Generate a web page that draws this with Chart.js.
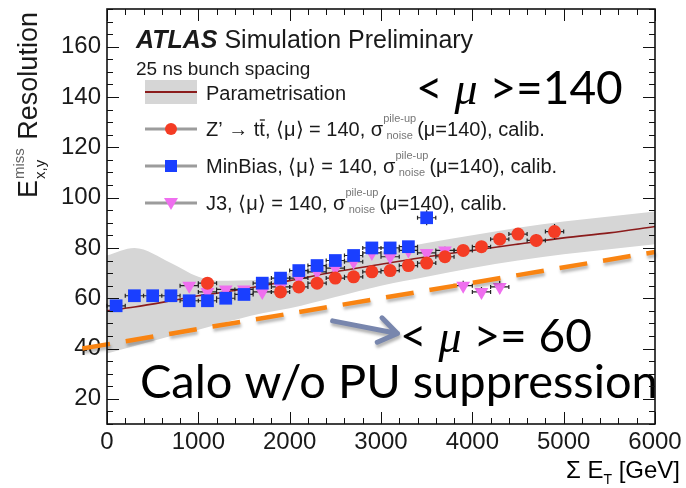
<!DOCTYPE html>
<html>
<head>
<meta charset="utf-8">
<script src="https://cdn.jsdelivr.net/npm/chart.js@4.4.1/dist/chart.umd.min.js"></script>
<style>
  html, body { margin: 0; padding: 0; background: #fff; }
  #wrap { width: 686px; height: 488px; }
</style>
</head>
<body>
<div id="wrap"><canvas id="resChart" width="686" height="488"></canvas></div>
<script>
// Sum E_T bin centres [GeV] and E_x,y^miss resolution [GeV]
const zprimeX = [1100, 1900, 2100, 2300, 2500, 2700, 2900, 3100, 3300, 3500, 3700, 3900, 4100, 4300, 4500, 4700, 4900];
const zprimeY = [66, 62.5, 64.5, 66, 68, 68.5, 70.5, 71, 73, 74, 76.5, 79, 80.5, 83.5, 85.5, 83, 86.5];
const zprimeErr = [1.5, 1, 1, 1, 1, 1, 1, 1, 1, 1.2, 1.2, 1.5, 1.5, 2, 2, 2.5, 3];

const minbiasX = [100, 300, 500, 700, 900, 1100, 1300, 1500, 1700, 1900, 2100, 2300, 2500, 2700, 2900, 3100, 3300, 3500];
const minbiasY = [57, 61, 61, 61, 59, 59, 60, 61.5, 66, 68, 71, 73, 75, 77, 80, 80, 80.5, 92];
const minbiasErr = [1, 0.8, 0.8, 0.8, 0.8, 0.8, 0.8, 1, 1, 1, 1, 1, 1, 1, 1, 1.2, 1.2, 3];

const j3X = [900, 1100, 1300, 1500, 1700, 1900, 2100, 2300, 2500, 2700, 2900, 3100, 3300, 3500, 3700, 3900, 4100, 4300];
const j3Y = [65, 62.5, 63.5, 63.5, 62.5, 64.5, 68, 70.5, 72, 74.5, 78, 76.5, 79, 78, 79, 65, 62.5, 64.5];
const j3Err = [1.5, 1, 1, 1, 1, 1, 1, 1, 1, 1, 1.2, 1.2, 1.5, 1.5, 1.5, 2, 2, 2.5];

// horizontal half-width of every bin
const binHalfWidth = 100;

// parametrisation curve and its uncertainty band
const paramX = [0, 300, 700, 1000, 1200, 1700, 2000, 2500, 3000, 3500, 4000, 4500, 5000, 5500, 6000];
const paramY = [55, 56.5, 59, 61, 62, 65, 67, 70.5, 73.5, 76.5, 79, 81.5, 84, 86, 88.5];
const bandHi = [77, 80, 74, 68.5, 67, 67.5, 70, 74.5, 78.5, 82, 85, 88, 90.5, 92.5, 94.5];
const bandLo = [38, 41, 45, 47.5, 49.5, 54, 56, 60.5, 65, 68.5, 72, 75, 77.5, 79.5, 81.5];

// <mu> = 60 calorimeter-only reference line (no pile-up suppression)
const caloX = [-270, 6000];
const caloY = [40, 78.4];

// arrow pointing from the band to the <mu> = 60 label
const arrowFrom = [2470, 51];
const arrowTo = [3180, 46];

const xTicks = [0, 1000, 2000, 3000, 4000, 5000, 6000];
const yTicks = [20, 40, 60, 80, 100, 120, 140, 160];
const xRange = [0, 6000];
const yRange = [10, 175];

const SANS = '"Liberation Sans", Arial, Helvetica, sans-serif';
const BIG = 'Lato, "Open Sans", sans-serif';
const INK = '#1a1a1a';

const RED = '#f43c24';
const BLUE = '#1a3fff';
const PINK = '#ef6fef';

function toPoints(xs, ys, errs) {
  return xs.map((x, i) => ({ x: x, y: ys[i], e: errs ? errs[i] : 0 }));
}

// draws a sequence of text pieces left to right, returns end x
function runText(ctx, x, y, pieces) {
  pieces.forEach(p => {
    ctx.font = p.font;
    ctx.fillText(p.t, x, y + (p.dy || 0));
    x += ctx.measureText(p.t).width;
  });
  return x;
}

function sigmaTerm(ctx, x, y) {
  ctx.font = '11px ' + SANS;
  const wSup = ctx.measureText('pile-up').width;
  const wSub = ctx.measureText('noise').width;
  ctx.fillStyle = '#777';
  ctx.fillText('pile-up', x, y - 10);
  ctx.fillText('noise', x + (wSup - wSub) / 2, y + 7);
  ctx.fillStyle = INK;
  return x + Math.max(wSup, wSub) + 1;
}

const errorBars = {
  id: 'errorBars',
  beforeDatasetDraw(chart, args) {
    const ds = chart.data.datasets[args.index];
    if (!ds.errorBars) return;
    const { ctx, scales: { x, y } } = chart;
    ctx.save();
    ctx.strokeStyle = '#222';
    ctx.lineWidth = 1.2;
    ctx.beginPath();
    ds.data.forEach(p => {
      const px = x.getPixelForValue(p.x), py = y.getPixelForValue(p.y);
      const x0 = x.getPixelForValue(p.x - binHalfWidth), x1 = x.getPixelForValue(p.x + binHalfWidth);
      const y0 = y.getPixelForValue(p.y - p.e), y1 = y.getPixelForValue(p.y + p.e);
      ctx.moveTo(x0, py); ctx.lineTo(x1, py);
      ctx.moveTo(x0, py - 2); ctx.lineTo(x0, py + 2);
      ctx.moveTo(x1, py - 2); ctx.lineTo(x1, py + 2);
      ctx.moveTo(px, y0); ctx.lineTo(px, y1);
    });
    ctx.stroke();
    ctx.restore();
  }
};

// soft drop shadow under the overlay line
const overlayShadow = {
  id: 'overlayShadow',
  beforeDatasetDraw(chart, args) {
    if (!chart.data.datasets[args.index].shadow) return;
    const ctx = chart.ctx;
    ctx.save();
    ctx.shadowColor = 'rgba(0,0,0,0.28)';
    ctx.shadowBlur = 3;
    ctx.shadowOffsetX = 1;
    ctx.shadowOffsetY = 3;
  },
  afterDatasetDraw(chart, args) {
    if (!chart.data.datasets[args.index].shadow) return;
    chart.ctx.restore();
  }
};

const annotations = {
  id: 'annotations',
  afterDraw(chart) {
    const { ctx, scales: { x, y } } = chart;
    ctx.save();
    ctx.textBaseline = 'alphabetic';
    ctx.textAlign = 'left';
    ctx.fillStyle = INK;

    // header
    runText(ctx, 136, 48, [
      { t: 'ATLAS', font: 'italic bold 25px ' + SANS },
      { t: ' Simulation Preliminary', font: '25px ' + SANS }
    ]);
    runText(ctx, 136, 75, [{ t: '25 ns bunch spacing', font: '19px ' + SANS }]);

    // legend: parametrisation
    ctx.fillStyle = '#d6d6d6';
    ctx.fillRect(145, 80, 52, 24);
    ctx.strokeStyle = '#8b1c1c';
    ctx.lineWidth = 2;
    ctx.beginPath(); ctx.moveTo(145, 92); ctx.lineTo(197, 92); ctx.stroke();
    ctx.fillStyle = INK;
    runText(ctx, 206, 100, [{ t: 'Parametrisation', font: '20px ' + SANS }]);

    // legend: marker rows
    const rows = [
      { yc: 129, style: 'circle', color: RED, label: 'Z\u2019 \u2192 t' },
      { yc: 166, style: 'rect', color: BLUE, label: 'MinBias' },
      { yc: 203, style: 'tri', color: PINK, label: 'J3' }
    ];
    const rowFont = '20px ' + SANS;
    rows.forEach(r => {
      ctx.strokeStyle = '#9c9c9c';
      ctx.lineWidth = 3;
      ctx.beginPath(); ctx.moveTo(145, r.yc); ctx.lineTo(197, r.yc); ctx.stroke();
      ctx.fillStyle = r.color;
      ctx.beginPath();
      if (r.style === 'circle') ctx.arc(171, r.yc, 6, 0, Math.PI * 2);
      else if (r.style === 'rect') ctx.rect(165, r.yc - 6, 12, 12);
      else { ctx.moveTo(164, r.yc - 5); ctx.lineTo(178, r.yc - 5); ctx.lineTo(171, r.yc + 7); ctx.closePath(); }
      ctx.fill();
      ctx.fillStyle = INK;
      const base = r.yc + 7;
      let tx = runText(ctx, 206, base, [{ t: r.label, font: rowFont }]);
      if (r.style === 'circle') {
        ctx.font = rowFont;
        const wt = ctx.measureText('t').width;
        ctx.fillText('t', tx, base);
        ctx.lineWidth = 1.3; ctx.strokeStyle = INK;
        ctx.beginPath(); ctx.moveTo(tx + 0.5, base - 16); ctx.lineTo(tx + wt, base - 16); ctx.stroke();
        tx += wt;
      }
      tx = runText(ctx, tx, base, [{ t: ', \u27e8\u03bc\u27e9 = 140, \u03c3', font: rowFont }]);
      tx = sigmaTerm(ctx, tx, base - 4);
      runText(ctx, tx, base, [{ t: '(\u03bc=140), calib.', font: rowFont }]);
    });

    // large overlay labels
    ctx.fillStyle = '#000';
    const bigLabel = (vx, vy, before, after) => {
      const px = x.getPixelForValue(vx), py = y.getPixelForValue(vy);
      runText(ctx, px, py, [
        { t: before, font: '46px ' + BIG },
        { t: '\u03bc', font: 'italic 46px "Liberation Serif", serif' },
        { t: after, font: '46px ' + BIG }
      ]);
    };
    bigLabel(3384, 137.3, '< ', ' >=140');
    bigLabel(3209, 38.6, '< ', ' >= 60');
    ctx.font = '47px ' + BIG;
    ctx.fillText('Calo w/o PU suppression', x.getPixelForValue(361), y.getPixelForValue(20.3));

    // arrow
    const ax0 = x.getPixelForValue(arrowFrom[0]), ay0 = y.getPixelForValue(arrowFrom[1]);
    const ax1 = x.getPixelForValue(arrowTo[0]), ay1 = y.getPixelForValue(arrowTo[1]);
    const ang = Math.atan2(ay1 - ay0, ax1 - ax0);
    ctx.save();
    ctx.shadowColor = 'rgba(0,0,0,0.3)';
    ctx.shadowBlur = 3; ctx.shadowOffsetX = 1; ctx.shadowOffsetY = 3;
    ctx.strokeStyle = '#7886ad';
    ctx.lineWidth = 5;
    ctx.lineCap = 'round';
    ctx.lineJoin = 'round';
    ctx.beginPath();
    ctx.moveTo(ax0, ay0); ctx.lineTo(ax1, ay1);
    ctx.moveTo(ax1 - 22 * Math.cos(ang - 0.6), ay1 - 22 * Math.sin(ang - 0.6));
    ctx.lineTo(ax1, ay1);
    ctx.lineTo(ax1 - 22 * Math.cos(ang + 0.6), ay1 - 22 * Math.sin(ang + 0.6));
    ctx.stroke();
    ctx.restore();

    // y axis title
    ctx.save();
    ctx.translate(37, 198);
    ctx.rotate(-Math.PI / 2);
    ctx.fillStyle = INK;
    ctx.font = '27px ' + SANS;
    ctx.fillText('E', 0, 0);
    const wE = ctx.measureText('E').width;
    ctx.font = '15px ' + SANS;
    const wm = ctx.measureText('miss').width, wxy = ctx.measureText('x,y').width;
    ctx.fillStyle = '#666';
    ctx.fillText('miss', wE + 1, -13);
    ctx.fillStyle = INK;
    ctx.fillText('x,y', wE + 1, 8);
    ctx.font = '27px ' + SANS;
    ctx.fillText(' Resolution', wE + Math.max(wm, wxy) + 2, 0);
    ctx.restore();

    // x axis title
    ctx.font = '24px ' + SANS;
    const w1 = ctx.measureText('\u03a3 E').width, w3 = ctx.measureText(' [GeV]').width;
    ctx.font = '14px ' + SANS;
    const w2 = ctx.measureText('T').width;
    runText(ctx, 680 - (w1 + w2 + w3), 478, [
      { t: '\u03a3 E', font: '24px ' + SANS },
      { t: 'T', font: '14px ' + SANS, dy: 6 },
      { t: ' [GeV]', font: '24px ' + SANS }
    ]);
    ctx.restore();
  }
};

// ROOT-style frame with inward ticks on all four sides
const frameTicks = {
  id: 'frameTicks',
  afterDraw(chart) {
    const { ctx, chartArea: a, scales: { x, y } } = chart;
    ctx.save();
    ctx.strokeStyle = '#111';
    ctx.lineWidth = 1;
    ctx.beginPath();
    for (let v = xRange[0]; v <= xRange[1]; v += 200) {
      const px = Math.round(x.getPixelForValue(v)) + 0.5;
      const len = v % 1000 === 0 ? 12 : 6;
      ctx.moveTo(px, a.bottom); ctx.lineTo(px, a.bottom - len);
      ctx.moveTo(px, a.top); ctx.lineTo(px, a.top + len);
    }
    for (let v = yRange[0]; v <= yRange[1]; v += 5) {
      const py = Math.round(y.getPixelForValue(v)) + 0.5;
      const len = v % 20 === 0 ? 12 : 6;
      ctx.moveTo(a.left, py); ctx.lineTo(a.left + len, py);
      ctx.moveTo(a.right, py); ctx.lineTo(a.right - len, py);
    }
    ctx.stroke();
    ctx.lineWidth = 1.6;
    ctx.strokeRect(a.left, a.top, a.right - a.left, a.bottom - a.top);
    ctx.restore();
  }
};

const ctx = document.getElementById('resChart').getContext('2d');
new Chart(ctx, {
  type: 'scatter',
  data: {
    datasets: [
      {
        label: 'band low',
        data: toPoints(paramX, bandLo),
        showLine: true, borderWidth: 0, pointRadius: 0,
        cubicInterpolationMode: 'monotone',
        fill: false, order: 6
      },
      {
        label: 'band high',
        data: toPoints(paramX, bandHi),
        showLine: true, borderWidth: 0, pointRadius: 0,
        cubicInterpolationMode: 'monotone',
        backgroundColor: '#d6d6d6',
        fill: '-1', order: 5
      },
      {
        label: 'Parametrisation',
        data: toPoints(paramX, paramY),
        showLine: true, borderColor: '#8b1c1c', borderWidth: 1.6, pointRadius: 0,
        cubicInterpolationMode: 'monotone', order: 4
      },
      {
        label: 'J3',
        data: toPoints(j3X, j3Y, j3Err),
        pointStyle: 'triangle', rotation: 180, pointRadius: 8,
        backgroundColor: PINK, borderColor: PINK, borderWidth: 0,
        errorBars: true, order: 3
      },
      {
        label: 'MinBias',
        data: toPoints(minbiasX, minbiasY, minbiasErr),
        pointStyle: 'rect', pointRadius: 9,
        backgroundColor: BLUE, borderColor: BLUE, borderWidth: 0,
        errorBars: true, order: 2
      },
      {
        label: 'Zprime',
        data: toPoints(zprimeX, zprimeY, zprimeErr),
        pointStyle: 'circle', pointRadius: 6.5,
        backgroundColor: RED, borderColor: RED, borderWidth: 0,
        errorBars: true, order: 1
      },
      {
        label: 'Calo no PU suppression',
        data: toPoints(caloX, caloY),
        showLine: true, borderColor: '#f98412', borderWidth: 4.5,
        borderDash: [28, 16], pointRadius: 0,
        clip: false, shadow: true, order: 0
      }
    ]
  },
  options: {
    responsive: false,
    animation: false,
    events: [],
    layout: { padding: { top: 8, right: 31, left: 0, bottom: 0 } },
    plugins: { legend: { display: false }, tooltip: { enabled: false } },
    scales: {
      x: {
        type: 'linear', min: xRange[0], max: xRange[1],
        afterBuildTicks: s => { s.ticks = xTicks.map(v => ({ value: v })); },
        afterFit: s => { s.height = 64; s.paddingLeft = 0; s.paddingRight = 0; },
        ticks: {
          font: { family: SANS, size: 24 }, color: INK, padding: 4,
          maxRotation: 0, autoSkip: false, callback: v => String(v)
        },
        grid: { display: false, drawTicks: false },
        border: { display: false }
      },
      y: {
        type: 'linear', min: yRange[0], max: yRange[1],
        afterBuildTicks: s => { s.ticks = yTicks.map(v => ({ value: v })); },
        afterFit: s => { s.width = 107; s.paddingTop = 0; s.paddingBottom = 0; },
        ticks: { font: { family: SANS, size: 24 }, color: INK, padding: 6, autoSkip: false, callback: v => String(v) },
        grid: { display: false, drawTicks: false },
        border: { display: false }
      }
    }
  },
  plugins: [errorBars, overlayShadow, annotations, frameTicks]
});
</script>
</body>
</html>
